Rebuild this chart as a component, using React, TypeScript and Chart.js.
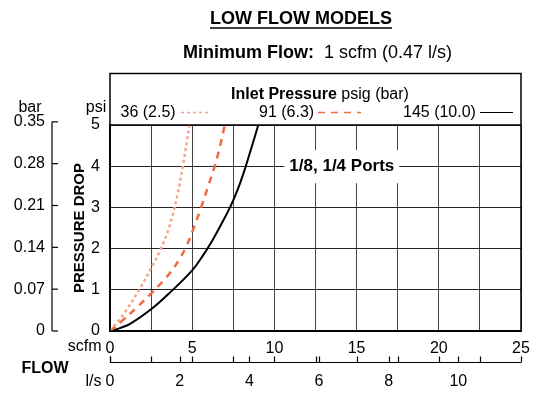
import React, { useEffect, useRef } from 'react';
import { Chart, registerables } from 'chart.js';

Chart.register(...registerables);

// ---- data ----
const flow36 = [0, 0.9, 1.77, 2.48, 3.1, 3.5, 3.8, 4.1, 4.43, 4.84];
const psi36 = [0, 0.45, 1.0, 1.51, 2.0, 2.4, 2.8, 3.3, 4.0, 5.0];
const flow91 = [0, 0.77, 1.6, 2.48, 3.2, 3.69, 4.2, 4.6, 5.0, 5.5, 6.0, 6.37, 6.7, 6.98];
const psi91 = [0, 0.26, 0.56, 0.9, 1.2, 1.43, 1.73, 2.02, 2.4, 2.95, 3.55, 4.0, 4.5, 5.0];
const flow145 = [0, 0.6, 1.25, 2.48, 3.69, 5.0, 5.6, 6.2, 6.75, 7.3, 7.8, 8.22, 8.62, 9.02];
const psi145 = [0, 0.07, 0.18, 0.52, 0.95, 1.47, 1.8, 2.18, 2.58, 3.0, 3.47, 3.95, 4.47, 5.0];

const seriesLabels = ['36 (2.5)', '91 (6.3)', '145 (10.0)'];
const lsTicks = [0, 2, 4, 6, 8, 10];
const barTicks = [0, 0.07, 0.14, 0.21, 0.28, 0.35];
const SCFM_PER_LS = 2.119;
const PSI_PER_BAR = 14.5038;

const FONT = '"Liberation Sans", Arial, Helvetica, sans-serif';

const toPoints = (xs: number[], ys: number[]) => xs.map((x, i) => ({ x, y: ys[i] }));

const extrasPlugin = {
  id: 'extras',
  afterDraw(chart: any) {
    const { ctx, chartArea } = chart;
    const xs = chart.scales.x;
    const ys = chart.scales.y;
    const { left, right, top, bottom } = chartArea;
    ctx.save();
    ctx.fillStyle = '#000';
    ctx.strokeStyle = '#000';

    // title
    ctx.font = `bold 18px ${FONT}`;
    ctx.textAlign = 'center';
    ctx.textBaseline = 'middle';
    const title = 'LOW FLOW MODELS';
    const tw = ctx.measureText(title).width;
    ctx.fillText(title, 301, 19);
    ctx.lineWidth = 1.5;
    ctx.beginPath();
    ctx.moveTo(301 - tw / 2, 28);
    ctx.lineTo(301 + tw / 2, 28);
    ctx.stroke();

    // subtitle
    ctx.textAlign = 'left';
    ctx.font = `bold 18px ${FONT}`;
    const s1 = 'Minimum Flow:';
    ctx.fillText(s1, 183, 53);
    const w1 = ctx.measureText(s1).width;
    ctx.font = `18px ${FONT}`;
    ctx.fillText('  1 scfm (0.47 l/s)', 183 + w1, 53);

    // frame above the plot (legend box)
    ctx.lineWidth = 1.5;
    ctx.strokeRect(left, 73.5, right - left, bottom - 73.5);
    ctx.beginPath();
    ctx.moveTo(left, top);
    ctx.lineTo(right, top);
    ctx.stroke();

    // legend title
    ctx.font = `bold 16px ${FONT}`;
    const l1 = 'Inlet Pressure';
    const lw1 = ctx.measureText(l1).width;
    ctx.font = `16px ${FONT}`;
    const l2 = ' psig (bar)';
    const lw2 = ctx.measureText(l2).width;
    const lx = 320 - (lw1 + lw2) / 2;
    ctx.font = `bold 16px ${FONT}`;
    ctx.fillText(l1, lx, 95);
    ctx.font = `16px ${FONT}`;
    ctx.fillText(l2, lx + lw1, 95);

    // legend items
    const itemX = [120.5, 259, 403];
    const lineX = [[181, 211], [318, 361], [480, 513]];
    chart.data.datasets.forEach((ds: any, i: number) => {
      ctx.fillStyle = '#000';
      ctx.font = `16px ${FONT}`;
      ctx.fillText(ds.label, itemX[i], 112.5);
      ctx.save();
      ctx.strokeStyle = ds.borderColor;
      ctx.lineWidth = i === 2 ? 1.2 : 1.5;
      ctx.setLineDash(ds.borderDash || []);
      ctx.beginPath();
      ctx.moveTo(lineX[i][0], 112.5);
      ctx.lineTo(lineX[i][1], 112.5);
      ctx.stroke();
      ctx.restore();
    });

    // "1/8, 1/4 Ports"
    ctx.font = `bold 17px ${FONT}`;
    ctx.textAlign = 'center';
    const pt = '1/8, 1/4 Ports';
    const pw = ctx.measureText(pt).width;
    const px = xs.getPixelForValue(14.1);
    const py = ys.getPixelForValue(4);
    ctx.fillStyle = '#fff';
    ctx.fillRect(px - pw / 2 - 5, py - 16, pw + 10, 33);
    ctx.fillStyle = '#000';
    ctx.fillText(pt, px, py + 0.5);

    // psi / bar headings
    ctx.font = `16px ${FONT}`;
    ctx.textAlign = 'center';
    ctx.fillText('psi', 96, 108);
    ctx.fillText('bar', 30, 108);

    // bar axis
    const barX = 52;
    ctx.lineWidth = 1.2;
    ctx.beginPath();
    ctx.moveTo(barX, ys.getPixelForValue(barTicks[barTicks.length - 1] * PSI_PER_BAR));
    ctx.lineTo(barX, ys.getPixelForValue(0));
    ctx.stroke();
    ctx.textAlign = 'right';
    barTicks.forEach((b) => {
      const y = ys.getPixelForValue(b * PSI_PER_BAR);
      ctx.beginPath();
      ctx.moveTo(barX, y);
      ctx.lineTo(barX + 6, y);
      ctx.stroke();
      ctx.fillText(b === 0 ? '0' : b.toFixed(2), 45, y);
    });

    // vertical axis title
    ctx.save();
    ctx.translate(80, 228);
    ctx.rotate(-Math.PI / 2);
    ctx.font = `bold 15px ${FONT}`;
    ctx.textAlign = 'center';
    ctx.fillText('PRESSURE DROP', 0, 0);
    ctx.restore();

    // scfm / l/s / FLOW labels
    ctx.font = `16px ${FONT}`;
    ctx.textAlign = 'right';
    ctx.fillText('scfm', 101.5, 346.5);
    ctx.fillText('l/s', 101.5, 381.5);
    ctx.font = `bold 16px ${FONT}`;
    ctx.textAlign = 'center';
    ctx.fillText('FLOW', 45, 369);

    // l/s axis
    const lsY = 362.5;
    ctx.lineWidth = 1.2;
    ctx.beginPath();
    ctx.moveTo(left, lsY);
    ctx.lineTo(right, lsY);
    ctx.stroke();
    const tickScfm: number[] = [];
    for (let v = 0; v <= 25.001; v += 2.5) tickScfm.push(v);
    lsTicks.forEach((l) => tickScfm.push(l * SCFM_PER_LS));
    tickScfm.forEach((v) => {
      const x = Math.round(xs.getPixelForValue(v)) + 0.5;
      ctx.beginPath();
      ctx.moveTo(x, lsY);
      ctx.lineTo(x, lsY - 6);
      ctx.stroke();
    });
    ctx.font = `16px ${FONT}`;
    ctx.textAlign = 'center';
    lsTicks.forEach((l) => {
      ctx.fillText(String(l), xs.getPixelForValue(l * SCFM_PER_LS), 381.5);
    });

    ctx.restore();
  },
};

export default function App() {
  const ref = useRef<HTMLCanvasElement>(null);
  useEffect(() => {
    if (!ref.current) return;
    const chart = new Chart(ref.current, {
      type: 'scatter',
      data: {
        datasets: [
          {
            label: seriesLabels[0],
            data: toPoints(flow36, psi36),
            showLine: true,
            borderColor: '#f6a68c',
            borderWidth: 2.5,
            borderDash: [3, 3],
            pointRadius: 0,
            tension: 0.4,
          },
          {
            label: seriesLabels[1],
            data: toPoints(flow91, psi91),
            showLine: true,
            borderColor: '#ef6a3f',
            borderWidth: 2.5,
            borderDash: [7, 6],
            pointRadius: 0,
            tension: 0.4,
          },
          {
            label: seriesLabels[2],
            data: toPoints(flow145, psi145),
            showLine: true,
            borderColor: '#000000',
            borderWidth: 2,
            pointRadius: 0,
            tension: 0.4,
          },
        ],
      } as any,
      options: {
        animation: false,
        responsive: false,
        devicePixelRatio: 1,
        layout: { padding: { left: 0, right: 22, top: 125, bottom: 39 } },
        plugins: { legend: { display: false }, tooltip: { enabled: false }, title: { display: false } },
        font: { family: FONT, size: 16 },
        scales: {
          x: {
            type: 'linear',
            min: 0,
            max: 25,
            afterFit: (s: any) => { s.height = 30; },
            border: { display: true, color: '#000', width: 1.5 },
            grid: { color: '#444', lineWidth: 1, drawTicks: false },
            ticks: {
              stepSize: 2.5,
              autoSkip: false,
              maxRotation: 0,
              padding: 8,
              color: '#000',
              font: { family: FONT, size: 16 },
              callback: (v: any) => (Number(v) % 5 === 0 ? String(v) : ''),
            },
          },
          y: {
            type: 'linear',
            min: 0,
            max: 5,
            afterFit: (s: any) => { s.width = 110; },
            border: { display: true, color: '#000', width: 1.5 },
            grid: { color: '#222', lineWidth: 1, drawTicks: false },
            ticks: {
              stepSize: 1,
              padding: 10,
              color: '#000',
              font: { family: FONT, size: 16 },
            },
          },
        },
      } as any,
      plugins: [extrasPlugin],
    });
    return () => chart.destroy();
  }, []);
  return (
    <div style={{ position: 'absolute', left: 0, top: 0, width: 543, height: 400, background: '#fff' }}>
      <canvas ref={ref} width={543} height={400} style={{ display: 'block' }} />
    </div>
  );
}
